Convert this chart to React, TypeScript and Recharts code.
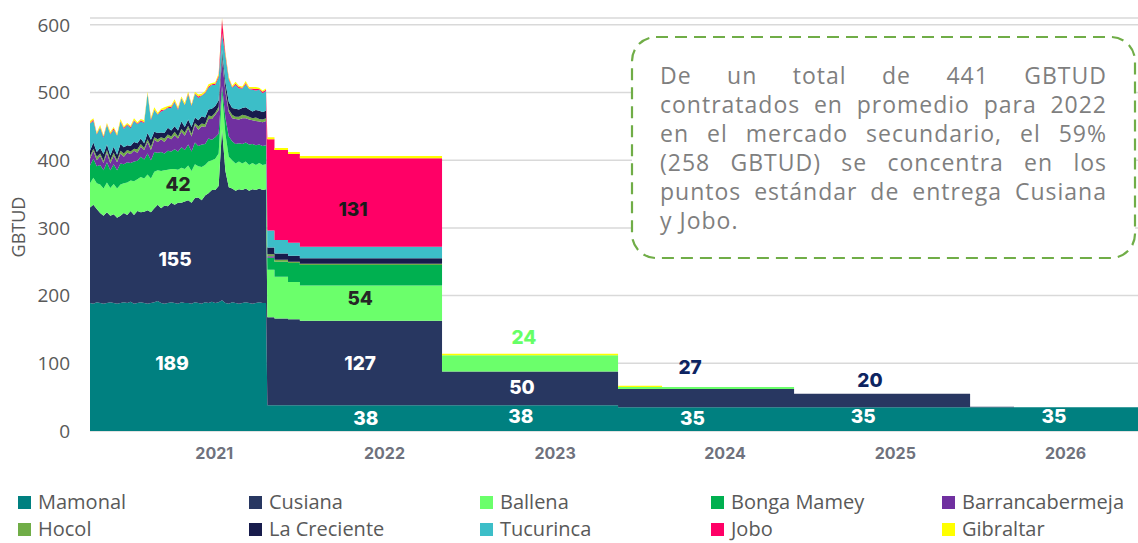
import React from 'react';
import { AreaChart, Area, XAxis, YAxis, CartesianGrid, ReferenceDot } from 'recharts';

// 2021: weekly samples (week 0..52), GBTUD per delivery point
const mamonal2021 = [
  189, 188, 190, 189, 188, 189, 190, 189, 188, 189,
  190, 189, 191, 188, 189, 190, 189, 188, 189, 190,
  192, 189, 188, 189, 190, 189, 188, 190, 189, 189,
  188, 190, 189, 188, 190, 189, 191, 189, 190, 193,
  189, 188, 190, 189, 188, 189, 190, 189, 188, 189,
  190, 189, 189,
];
const cusiana2021 = [
  141, 146, 138, 133, 130, 134, 128, 131, 127, 129,
  132, 130, 134, 131, 136, 133, 135, 138, 134, 139,
  142, 140, 145, 143, 147, 145, 149, 147, 150, 152,
  149, 154, 156, 153, 158, 162, 165, 167, 172, 253,
  195, 172, 168, 166, 169, 167, 168, 166, 169, 167,
  168, 167, 168,
];
const ballena2021 = [
  36, 40, 38, 42, 40, 44, 41, 45, 43, 46,
  44, 48, 45, 50, 47, 52, 49, 53, 50, 54,
  51, 55, 52, 54, 50, 53, 49, 52, 48, 51,
  47, 50, 46, 49, 45, 47, 44, 46, 48, 52,
  55, 45, 42, 40, 41, 39, 40, 38, 39, 37,
  38, 37, 37,
];
const bonga2021 = [
  26, 28, 25, 29, 27, 30, 26, 29, 27, 31,
  28, 30, 26, 29, 27, 30, 28, 31, 27, 29,
  26, 28, 25, 28, 26, 29, 27, 30, 28, 31,
  29, 32, 30, 33, 31, 34, 30, 32, 29, 12,
  24, 30, 28, 29, 27, 29, 28, 30, 28, 29,
  27, 28, 28,
];
const barranca2021 = [
  10, 12, 9, 13, 11, 14, 10, 13, 12, 15,
  11, 14, 13, 16, 12, 15, 14, 17, 15, 18,
  16, 19, 17, 20, 18, 21, 19, 23, 21, 24,
  22, 26, 24, 27, 25, 29, 31, 33, 35, 40,
  38, 36, 34, 37, 35, 38, 36, 37, 35, 36,
  34, 35, 36,
];
const hocol2021 = [
  4, 3, 5, 4, 3, 4, 5, 4, 3, 4,
  5, 4, 4, 3, 5, 4, 3, 4, 5, 4,
  4, 3, 5, 4, 4, 5, 3, 4, 5, 4,
  4, 3, 5, 4, 4, 5, 4, 3, 5, 5,
  4, 4, 5, 3, 4, 5, 4, 4, 3, 5,
  4, 4, 4,
];
const creciente2021 = [
  8, 9, 7, 8, 10, 8, 7, 9, 8, 10,
  9, 7, 8, 10, 9, 8, 7, 9, 10, 8,
  9, 7, 8, 10, 9, 8, 9, 11, 8, 9,
  10, 8, 9, 11, 10, 9, 11, 10, 9, 8,
  10, 11, 10, 12, 11, 10, 12, 11, 10, 11,
  12, 11, 11,
];
const tucurinca2021 = [
  40, 32, 26, 30, 24, 29, 31, 25, 28, 33,
  27, 30, 26, 31, 28, 25, 30, 58, 29, 32,
  27, 31, 34, 29, 33, 36, 30, 34, 32, 37,
  31, 35, 33, 30, 36, 32, 35, 31, 34, 25,
  38, 33, 30, 35, 31, 29, 34, 30, 32, 29,
  31, 28, 29,
];
const jobo2021 = [
  1, 2, 1, 1, 2, 1, 1, 2, 1, 1,
  2, 1, 2, 1, 1, 2, 1, 1, 2, 1,
  1, 2, 1, 1, 2, 1, 2, 1, 1, 2,
  1, 1, 2, 1, 1, 2, 1, 2, 3, 20,
  4, 2, 1, 2, 2, 1, 2, 1, 2, 2,
  1, 2, 2,
];
const gibraltar2021 = [
  3, 2, 2, 3, 2, 2, 3, 2, 2, 3,
  2, 2, 2, 3, 2, 2, 3, 2, 2, 3,
  2, 2, 3, 2, 2, 3, 2, 2, 3, 2,
  2, 2, 3, 2, 2, 3, 2, 2, 3, 2,
  3, 2, 2, 3, 2, 2, 3, 2, 2, 3,
  2, 2, 2,
];

// 2022 onward: flat contracted levels, each held from stepStarts[i] to stepEnds[i] (weeks)
const stepStarts = [52.4, 54.5, 58.5, 62, 104, 156, 169, 208, 260, 273];
const stepEnds = [54.5, 58.5, 62, 104, 156, 169, 208, 260, 273, 309.6];
const mamonalSteps = [38, 38, 38, 38, 38, 35, 35, 35, 35, 35];
const cusianaSteps = [130, 128, 127, 125, 50, 27, 27, 20, 1, 0];
const ballenaSteps = [70, 62, 55, 52, 24, 3, 3, 0, 0, 0];
const bongaSteps = [18, 22, 28, 30, 0, 0, 0, 0, 0, 0];
const barrancaSteps = [2, 0, 0, 0, 0, 0, 0, 0, 0, 0];
const hocolSteps = [3, 3, 2, 2, 0, 0, 0, 0, 0, 0];
const crecienteSteps = [10, 9, 9, 8, 0, 0, 0, 0, 0, 0];
const tucurincaSteps = [25, 20, 19, 17, 0, 0, 0, 0, 0, 0];
const joboSteps = [135, 133, 131, 131, 0, 0, 0, 0, 0, 0];
const gibraltarSteps = [3, 3, 3, 3, 2, 2, 0, 0, 0, 0];

const yearLabels = ['2021', '2022', '2023', '2024', '2025', '2026'];
const yearTicks = [36.7, 87, 137.4, 187.6, 237.9, 288.2];
const yTicks = [0, 100, 200, 300, 400, 500, 600];

// value labels: [week, GBTUD, text, colour]
const valueLabels: [number, number, string, string][] = [
  [24.2, 100, '189', '#ffffff'],
  [25.1, 254, '155', '#ffffff'],
  [26, 365, '42', '#262626'],
  [77.7, 328, '131', '#1a1a1a'],
  [79.8, 196, '54', '#262626'],
  [79.8, 100, '127', '#ffffff'],
  [81.5, 19, '38', '#ffffff'],
  [128.2, 138, '24', '#66ff66'],
  [127.6, 64, '50', '#ffffff'],
  [127.3, 22, '38', '#ffffff'],
  [177.3, 94, '27', '#0d2461'],
  [178, 19, '35', '#ffffff'],
  [230.4, 75.5, '20', '#0d2461'],
  [228.4, 22, '35', '#ffffff'],
  [284.8, 22, '35', '#ffffff'],
];

const noteLines = [
  'De un total de 441 GBTUD',
  'contratados en promedio para 2022',
  'en el mercado secundario, el 59%',
  '(258 GBTUD) se concentra en los',
  'puntos estándar de entrega Cusiana',
  'y Jobo.',
];

const series = [
  { key: 'mamonal', name: 'Mamonal', color: '#008080', y2021: mamonal2021, steps: mamonalSteps },
  { key: 'cusiana', name: 'Cusiana', color: '#283761', y2021: cusiana2021, steps: cusianaSteps },
  { key: 'ballena', name: 'Ballena', color: '#6bff6b', y2021: ballena2021, steps: ballenaSteps },
  { key: 'bonga', name: 'Bonga Mamey', color: '#00b050', y2021: bonga2021, steps: bongaSteps },
  { key: 'barranca', name: 'Barrancabermeja', color: '#7030a0', y2021: barranca2021, steps: barrancaSteps },
  { key: 'hocol', name: 'Hocol', color: '#70ad47', y2021: hocol2021, steps: hocolSteps },
  { key: 'creciente', name: 'La Creciente', color: '#181c4c', y2021: creciente2021, steps: crecienteSteps },
  { key: 'tucurinca', name: 'Tucurinca', color: '#3cbec8', y2021: tucurinca2021, steps: tucurincaSteps },
  { key: 'jobo', name: 'Jobo', color: '#ff0066', y2021: jobo2021, steps: joboSteps },
  { key: 'gibraltar', name: 'Gibraltar', color: '#ffff00', y2021: gibraltar2021, steps: gibraltarSteps },
];

const data: Record<string, number>[] = [];
mamonal2021.forEach((_, i) => {
  const row: Record<string, number> = { week: i };
  series.forEach((s) => { row[s.key] = s.y2021[i]; });
  data.push(row);
});
stepStarts.forEach((start, k) => {
  [start, stepEnds[k]].forEach((w) => {
    const row: Record<string, number> = { week: w };
    series.forEach((s) => { row[s.key] = s.steps[k]; });
    data.push(row);
  });
});

const axisGrey = '#595959';

export default function App() {
  return (
    <div style={{ position: 'absolute', left: 0, top: 0, width: 1138, height: 543, background: '#fff', overflow: 'hidden' }}>
      <AreaChart width={1138} height={470} data={data} margin={{ top: 18, right: 0, left: 0, bottom: 0 }}>
        <CartesianGrid vertical={false} stroke="#d9d9d9" strokeWidth={1.5} />
        <XAxis
          dataKey="week"
          type="number"
          domain={[0, 309.6]}
          ticks={yearTicks}
          interval={0}
          height={39}
          axisLine={false}
          tickLine={false}
          tickMargin={11}
          tickFormatter={(_v, i) => yearLabels[i]}
          tick={{ fill: '#6f727d', fontSize: 16, fontWeight: 700, fontFamily: 'Inter' }}
        />
        <YAxis
          width={90}
          domain={[0, 600]}
          ticks={yTicks}
          axisLine={false}
          tickLine={false}
          tickMargin={14}
          tick={{ fill: axisGrey, fontSize: 19, fontFamily: 'Open Sans' }}
          label={{
            content: () => {
              const cx = 18;
              const cy = 227;
              return (
                <text x={cx} y={cy} transform={`rotate(-90 ${cx} ${cy})`} textAnchor="middle" dominantBaseline="central"
                  fill={axisGrey} fontSize={18} fontFamily="Open Sans">GBTUD</text>
              );
            },
          }}
        />
        {series.map((s) => (
          <Area
            key={s.key}
            type="linear"
            dataKey={s.key}
            name={s.name}
            stackId="1"
            stroke="none"
            fill={s.color}
            fillOpacity={1}
            dot={false}
            activeDot={false}
            isAnimationActive={false}
          />
        ))}
        {valueLabels.map(([w, v, text, color], i) => (
          <ReferenceDot
            key={i}
            x={w}
            y={v}
            r={0}
            fill="none"
            stroke="none"
            ifOverflow="visible"
            label={{ value: text, position: 'center', fill: color, fontSize: 19, fontWeight: 800, fontFamily: 'Inter' }}
          />
        ))}
      </AreaChart>

      <svg style={{ position: 'absolute', left: 630, top: 35 }} width={508} height={226}>
        <rect x={2} y={2} width={503} height={221} rx={24} ry={24} fill="#ffffff" stroke="#70ad47" strokeWidth={2.2} strokeDasharray="12 7" />
      </svg>
      <div style={{ position: 'absolute', left: 660, top: 61, width: 447, fontFamily: 'Open Sans', fontSize: 23, lineHeight: '29px', letterSpacing: 1, color: '#7f7f7f' }}>
        {noteLines.map((line, i) => {
          const last = i === noteLines.length - 1;
          return (
            <div key={i} style={{ textAlign: last ? 'left' : 'justify', textAlignLast: last ? 'left' : 'justify' } as React.CSSProperties}>
              {line}
            </div>
          );
        })}
      </div>

      {series.map((s, i) => {
        const col = i % 5;
        const row = Math.floor(i / 5);
        return (
          <div key={s.key} style={{ position: 'absolute', left: 18 + col * 231, top: 502 + row * 27 - 10, height: 20, lineHeight: '20px', display: 'flex', alignItems: 'center', fontFamily: 'Open Sans', fontSize: 20, color: axisGrey, whiteSpace: 'nowrap' }}>
            <span style={{ display: 'inline-block', width: 13, height: 13, background: s.color, marginRight: 7 }} />
            <span>{s.name}</span>
          </div>
        );
      })}
    </div>
  );
}
